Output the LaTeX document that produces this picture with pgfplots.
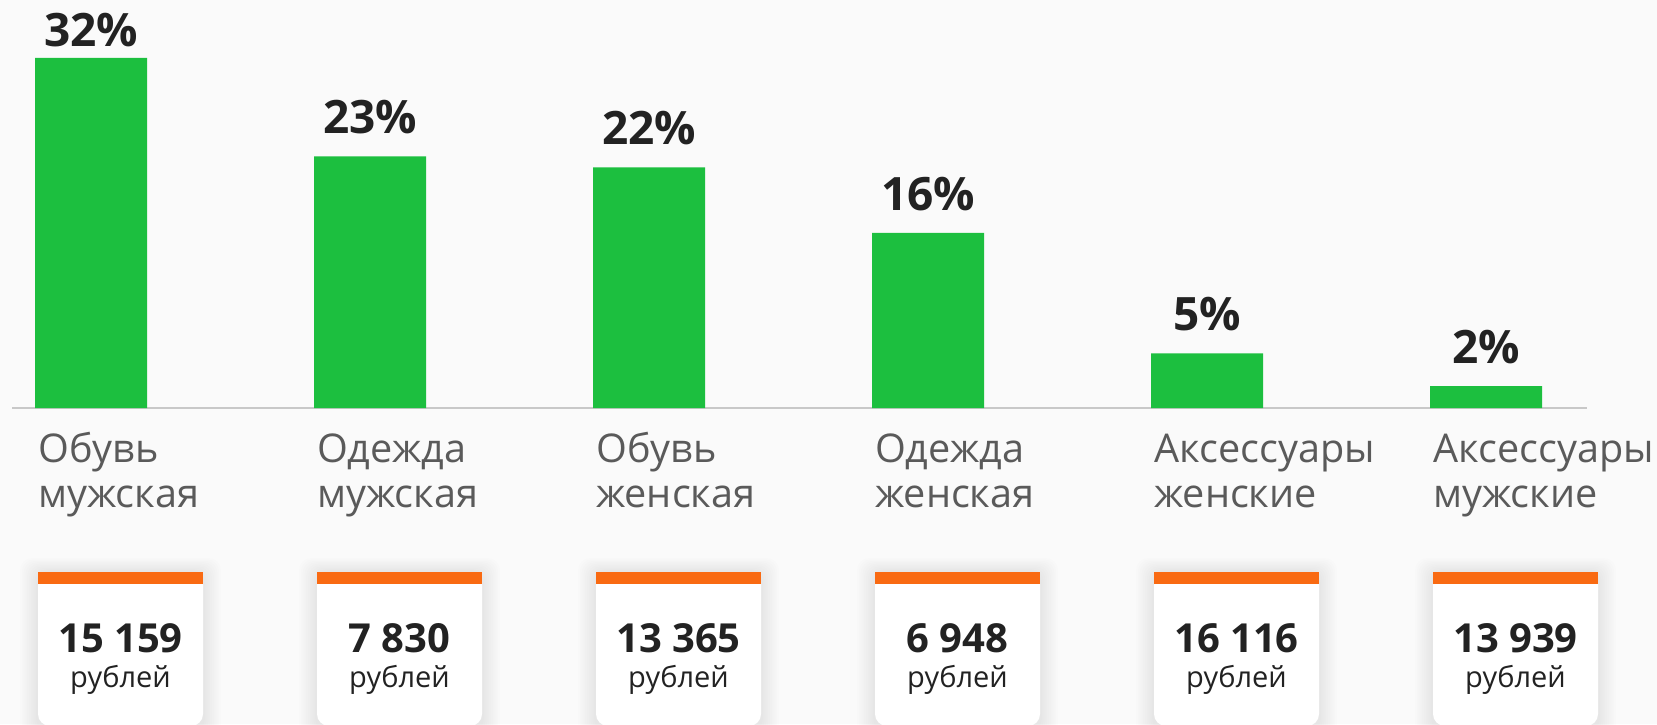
\documentclass[border=0pt]{standalone}
\usepackage{pgfplots}
\pgfplotsset{compat=1.18}
\usetikzlibrary{backgrounds}
\usepackage{fontspec}
\setmainfont{Open Sans}

\definecolor{bgc}{HTML}{FAFAFA}
\definecolor{barg}{HTML}{1CBF3F}
\definecolor{stripe}{HTML}{F96A12}
\definecolor{axc}{HTML}{C8C8C8}
\definecolor{txt}{HTML}{222222}
\definecolor{labc}{HTML}{5A5A5A}

\begin{document}
\begin{tikzpicture}
\begin{axis}[
    scale only axis,
    width=787.5pt, height=204pt,
    xmin=-0.283, xmax=5.362,
    ymin=0, ymax=37.3,
    axis x line=bottom, axis y line=none,
    axis line style={-, draw=axc, line width=1pt},
    ytick=\empty,
    xtick=data,
    xtick style={draw=none},
    xticklabels={{\strut Обувь\\мужская},{\strut Одежда\\мужская},{\strut Обувь\\женская},
                 {\strut Одежда\\женская},{\strut Аксессуары\\женские},{\strut Аксессуары\\мужские}},
    xticklabel style={anchor=north west, align=left, text=labc, inner sep=0pt,
                      font=\fontsize{19.8}{22.5}\selectfont, xshift=-26.5pt, yshift=-7pt},
    ybar, bar width=56pt, bar shift=0pt,
    clip=false,
    /pgf/number format/assume math mode=true,
    visualization depends on={y \as \yv},
    nodes near coords={\pgfmathprintnumber{\pgfplotspointmeta}\%},
    % the tallest label is pushed down by the top edge
    nodes near coords style={font=\bfseries\fontsize{23}{27}\selectfont, text=txt,
                             anchor=south, inner sep=0pt, yshift={11pt-5.5pt*(\yv>30)}},
]
\addplot[fill=barg, draw=none] coordinates {
    (0,32) (1,23) (2,22) (3,16) (4,5) (5,2)
};
\coordinate (O) at (axis cs:0,0);
\end{axis}

% everything else in reference pixels (1 px = 0.5pt), origin = first bar at baseline (91,316)
\pgfresetboundingbox
\begin{scope}[shift={(O)}, x=0.5pt, y=0.5pt]
\begin{scope}[shift={(-91,-316)}]
\path[use as bounding box] (0,0) rectangle (1657,724);
\begin{pgfonlayer}{background}
    \fill[bgc] (0,0) rectangle (1657,724);
\end{pgfonlayer}

% average purchase cards
\foreach \i/\v in {0/15 159,1/7 830,2/13 365,3/6 948,4/16 116,5/13 939}{
    \pgfmathsetmacro\L{38+279*\i}
    \foreach \k in {1,...,10}{
        \fill[black, opacity=0.006, rounded corners=6pt]
            (\L-\k*1.8,-6-\k) rectangle (\L+165+\k*1.8,152+\k*1.4);
    }
    \fill[white, rounded corners=6pt] (\L,-2) rectangle (\L+165,152);
    \fill[stripe] (\L,140) rectangle (\L+165,152);
    \node[anchor=base, inner sep=0pt, text=txt, font=\bfseries\fontsize{20}{24}\selectfont]
        at (\L+82.5,72) {\v};
    \node[anchor=base, inner sep=0pt, text=txt, font=\fontsize{14.5}{18}\selectfont]
        at (\L+82.5,37) {рублей};
}
\end{scope}
\end{scope}
\end{tikzpicture}
\end{document}
